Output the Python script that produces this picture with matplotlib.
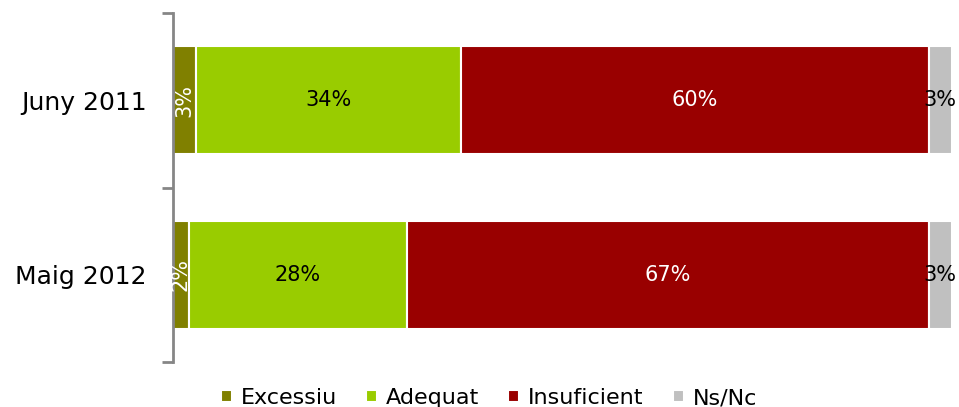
import numpy as np
import matplotlib.pyplot as plt

categories = ['Maig 2012', 'Juny 2011']
series = ['Excessiu', 'Adequat', 'Insuficient', 'Ns/Nc']
values = {
    'Excessiu': [2, 3],
    'Adequat': [28, 34],
    'Insuficient': [67, 60],
    'Ns/Nc': [3, 3],
}
colors = ['#808000', '#99CC00', '#990000', '#C0C0C0']
text_colors = ['white', 'black', 'white', 'black']

plt.rcParams['font.family'] = ['DejaVu Sans']

fig = plt.figure(figsize=(9.59, 4.07), dpi=100)
ax = fig.add_axes([173 / 959, 1 - 362 / 407, (952 - 173) / 959, (362 - 13) / 407])

y = np.arange(len(categories))
left = np.zeros(len(categories))
for s, c, tc in zip(series, colors, text_colors):
    vals = np.array(values[s], dtype=float)
    ax.barh(y, vals, left=left, height=0.62, color=c, edgecolor='white',
            linewidth=1.5, label=s)
    for yi, v, l in zip(y, vals, left):
        if s == 'Excessiu':
            ax.text(l + v / 2, yi, '%d%%' % v, ha='center', va='center',
                    color=tc, fontsize=15, rotation=90)
        else:
            ax.text(l + v / 2, yi, '%d%%' % v, ha='center', va='center',
                    color=tc, fontsize=15)
    left += vals

ax.set_xlim(0, 100)
ax.set_ylim(-0.5, 1.5)
ax.set_yticks([-0.5, 0.5, 1.5])
ax.set_yticklabels([])
ax.set_yticks(y, minor=True)
ax.set_yticklabels(categories, minor=True, fontsize=18)
ax.tick_params(axis='y', which='minor', length=0, pad=19)
ax.tick_params(axis='y', which='major', length=8, width=2, color='#868686')
ax.set_xticks([])
for sp in ['top', 'right', 'bottom']:
    ax.spines[sp].set_visible(False)
ax.spines['left'].set_color('#868686')
ax.spines['left'].set_linewidth(2)

fig.legend(loc='center', bbox_to_anchor=(0.51, 1 - 398 / 407), ncol=4,
           frameon=False, fontsize=16, handlelength=0.5, handleheight=0.5,
           handletextpad=0.4, columnspacing=1.3)

fig.savefig('out.png', dpi=100)
